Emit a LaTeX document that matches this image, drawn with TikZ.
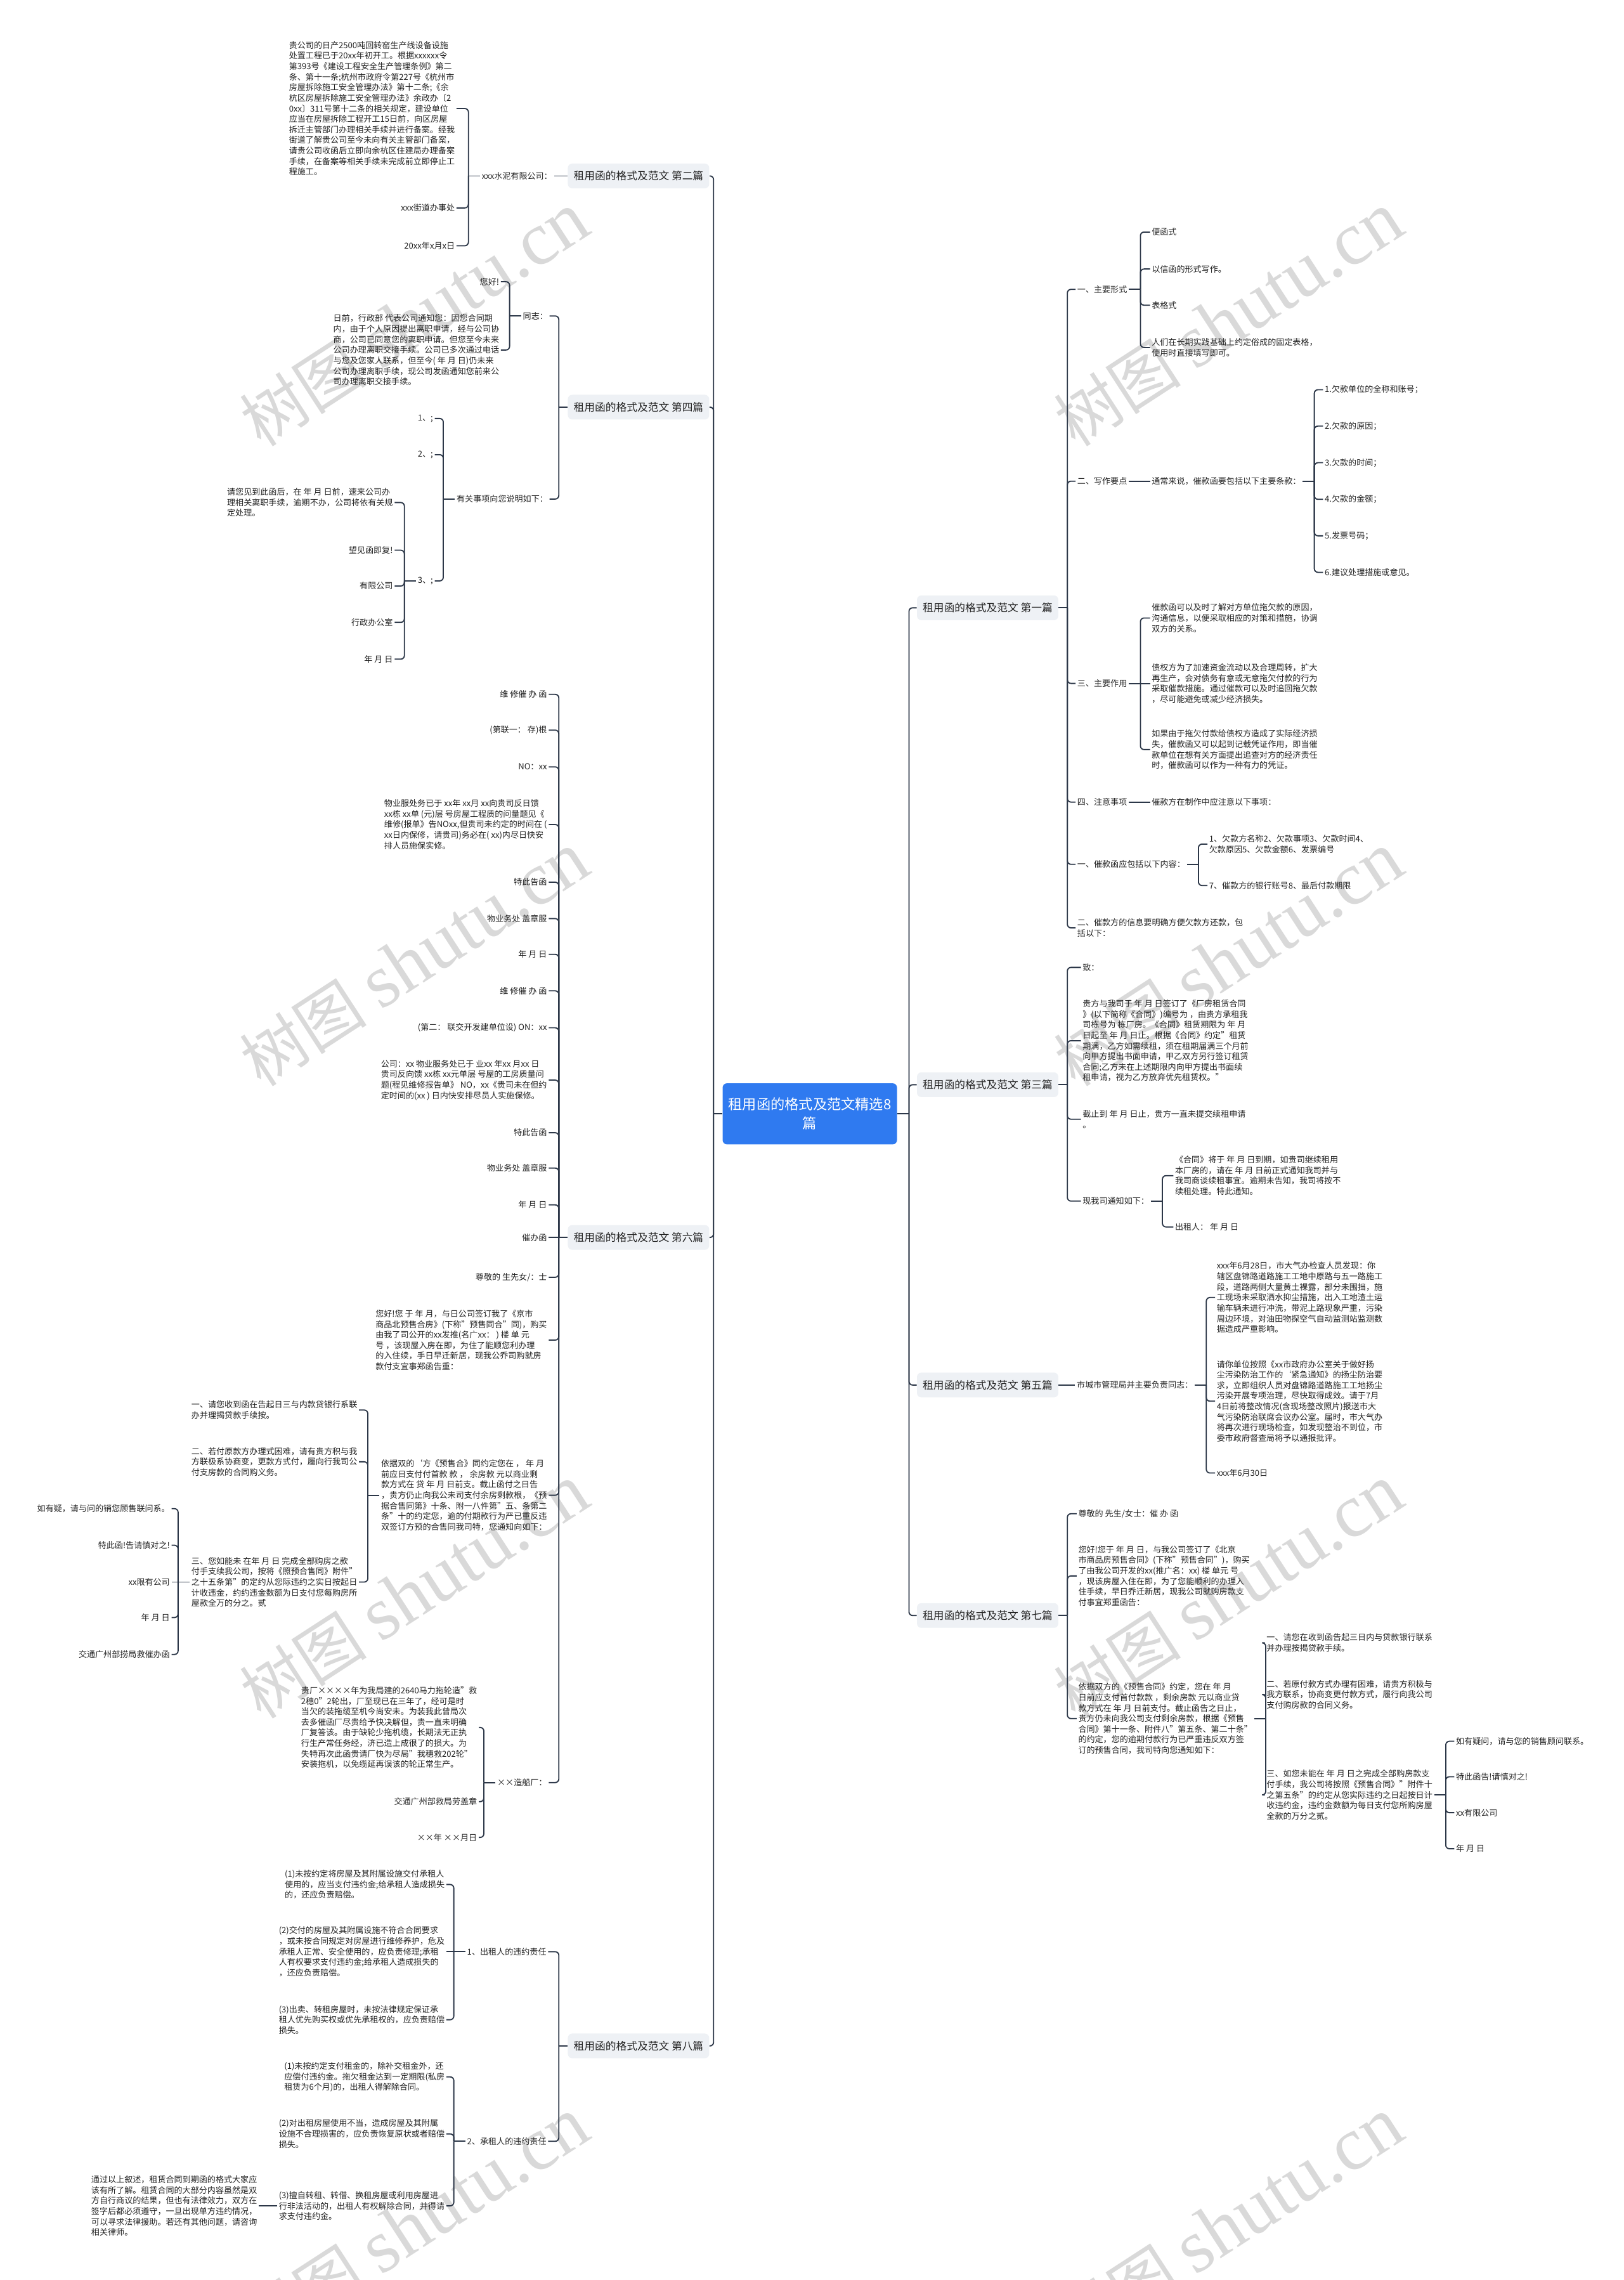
\documentclass[tikz,border=0pt]{standalone}
\usepackage{fontspec}
\setmainfont{Noto Sans CJK SC}
\newfontfamily\wmlat{Liberation Serif}
\usetikzlibrary{calc}
\definecolor{linec}{HTML}{2C3748}
\definecolor{txtc}{HTML}{222222}
\definecolor{boxc}{HTML}{EEF1F5}
\definecolor{rootc}{HTML}{2F7AF0}
\definecolor{wmc}{HTML}{D9D9D9}
\newcommand\grpL[3][8]{\draw[conn] (#2.west) -- ++(-#1,0);
 \foreach \cc in {#3}{\draw[conn,rounded corners=2.5pt] ($(#2.west)+(-#1,0)$) |- (\cc.east);}}
\newcommand\grpR[3][8]{\draw[conn] (#2.east) -- ++(#1,0);
 \foreach \cc in {#3}{\draw[conn,rounded corners=2.5pt] ($(#2.east)+(#1,0)$) |- (\cc.west);}}
\newcommand\strL[3][8]{\draw[conn] ($(#2.west)+(-#1,0)$) -- (#3.east);}
\newcommand\strR[3][8]{\draw[conn] ($(#2.east)+(#1,0)$) -- (#3.west);}
\newcommand\wmark{{\fontsize{44}{44}\selectfont 树图 }{\wmlat\fontsize{52}{52}\selectfont shutu.cn}}
\begin{document}
\begin{tikzpicture}[x=1pt,y=-1pt,
 leaf/.style={font=\fontsize{5.7}{7.25}\selectfont, align=left, inner sep=1pt, text=txtc},
 lvl/.style={fill=boxc, rounded corners=3pt, font=\fontsize{7.3}{9}\selectfont, inner xsep=4pt, inner ysep=0pt, minimum height=17pt, text=txtc},
 root/.style={fill=rootc, rounded corners=3pt, font=\fontsize{9.7}{13}\selectfont, text=white, align=center, minimum width=120pt, minimum height=42pt, inner sep=2pt},
 conn/.style={draw=linec, line width=0.8pt},
 wm/.style={text=wmc, rotate=33, inner sep=0pt}]
\useasboundingbox (0,0) rectangle (1117,1568);
\fill[white] (0,0) rectangle (1117,1568);
% watermarks
\node[wm] (w1) at (285,220) {\wmark};
\node[wm] (w2) at (845,220) {\wmark};
\node[wm] (w3) at (285,660) {\wmark};
\node[wm] (w4) at (845,660) {\wmark};
\node[wm] (w5) at (285,1095) {\wmark};
\node[wm] (w6) at (845,1095) {\wmark};
\node[wm] (w7) at (285,1530) {\wmark};
\node[wm] (w8) at (845,1530) {\wmark};
% root and level 1
\node[root] (root) at (557,766) {租用函的格式及范文精选8\\篇};
\node[lvl,anchor=east] (p2) at (488,121) {租用函的格式及范文 第二篇};
\node[lvl,anchor=east] (p4) at (488,280) {租用函的格式及范文 第四篇};
\node[lvl,anchor=east] (p6) at (488,851) {租用函的格式及范文 第六篇};
\node[lvl,anchor=east] (p8) at (488,1407) {租用函的格式及范文 第八篇};
\node[lvl,anchor=west] (p1) at (630.5,418) {租用函的格式及范文 第一篇};
\node[lvl,anchor=west] (p3) at (630.5,746) {租用函的格式及范文 第三篇};
\node[lvl,anchor=west] (p5) at (630.5,952.5) {租用函的格式及范文 第五篇};
\node[lvl,anchor=west] (p7) at (630.5,1111) {租用函的格式及范文 第七篇};
\grpL[6]{root}{p2,p4,p6,p8}
\grpR[8]{root}{p1,p3,p5,p7}
% ---------- 第二篇
\node[leaf,anchor=east] (n2a) at (381,121) {xxx水泥有限公司：};
\node[leaf,anchor=east] (n2a1) at (314,74.6) {贵公司的日产2500吨回转窑生产线设备设施\\处置工程已于20xx年初开工。根据xxxxxx令\\第393号《建设工程安全生产管理条例》第二\\条、第十一条;杭州市政府令第227号《杭州市\\房屋拆除施工安全管理办法》第十二条;《余\\杭区房屋拆除施工安全管理办法》余政办〔2\\0xx〕311号第十二条的相关规定，建设单位\\应当在房屋拆除工程开工15日前，向区房屋\\拆迁主管部门办理相关手续并进行备案。经我\\街道了解贵公司至今未向有关主管部门备案，\\请贵公司收函后立即向余杭区住建局办理备案\\手续，在备案等相关手续未完成前立即停止工\\程施工。};
\node[leaf,anchor=east] (n2a2) at (314,143) {xxx街道办事处};
\node[leaf,anchor=east] (n2a3) at (314,169) {20xx年x月x日};
\draw[conn] (p2.west) -- (n2a.east);
\grpL{n2a}{n2a1,n2a2,n2a3}
% ---------- 第四篇
\node[leaf,anchor=east] (n4a) at (378,217.3) {同志：};
\node[leaf,anchor=east] (n4b) at (378,343.2) {有关事项向您说明如下：};
\grpL[6]{p4}{n4a,n4b}
\node[leaf,anchor=east] (n4a1) at (344.5,193.7) {您好!};
\node[leaf,anchor=east] (n4a2) at (344.5,240.7) {日前，行政部 代表公司通知您：因您合同期\\内，由于个人原因提出离职申请，经与公司协\\商，公司已同意您的离职申请。但您至今未来\\公司办理离职交接手续。公司已多次通过电话\\与您及您家人联系，但至今( 年 月 日)仍未来\\公司办理离职手续，现公司发函通知您前来公\\司办理离职交接手续。};
\grpL{n4a}{n4a1,n4a2}
\node[leaf,anchor=east] (n4b1) at (299,287.8) {1、;};
\node[leaf,anchor=east] (n4b2) at (299,312.7) {2、;};
\node[leaf,anchor=east] (n4b3) at (299,399.5) {3、;};
\grpL{n4b}{n4b1,n4b2,n4b3}
\node[leaf,anchor=east] (n4c1) at (271.4,345.6) {请您见到此函后，在 年 月 日前，速来公司办\\理相关离职手续，逾期不办，公司将依有关规\\定处理。};
\node[leaf,anchor=east] (n4c2) at (271.4,378.4) {望见函即复!};
\node[leaf,anchor=east] (n4c3) at (271.4,403) {有限公司};
\node[leaf,anchor=east] (n4c4) at (271.4,428) {行政办公室};
\node[leaf,anchor=east] (n4c5) at (271.4,453.3) {年 月 日};
\grpL{n4b3}{n4c1,n4c2,n4c3,n4c4,n4c5}
% ---------- 第六篇
\node[leaf,anchor=east] (n6a) at (377.4,477.5) {维 修催 办 函};
\node[leaf,anchor=east] (n6b) at (377.4,502.1) {(第联一： 存)根};
\node[leaf,anchor=east] (n6c) at (377.4,527.4) {NO：xx};
\node[leaf,anchor=east] (n6d) at (377.4,567) {物业服处务已于 xx年 xx月 xx向贵司反日馈\\xx栋 xx单 (元)层 号房屋工程质的问量题见《\\维修(报单》告NOxx,但贵司未约定的时间在 (\\xx日内保修，请贵司)务必在( xx)内尽日快安\\排人员施保实修。};
\node[leaf,anchor=east] (n6e) at (377.4,606.7) {特此告函};
\node[leaf,anchor=east] (n6f) at (377.4,631.7) {物业务处 盖章服};
\node[leaf,anchor=east] (n6g) at (377.4,656.3) {年 月 日};
\node[leaf,anchor=east] (n6h) at (377.4,681.4) {维 修催 办 函};
\node[leaf,anchor=east] (n6i) at (377.4,706.8) {(第二： 联交开发建单位设) ON：xx};
\node[leaf,anchor=east] (n6j) at (377.4,742.8) {公司：xx 物业服务处已于 业xx 年xx 月xx 日\\贵司反向馈 xx栋 xx元单层 号屋的工房质量问\\题(程见维修报告单》 NO，xx《贵司未在但约\\定时间的(xx ) 日内快安排尽员人实施保修。};
\node[leaf,anchor=east] (n6k) at (377.4,779) {特此告函};
\node[leaf,anchor=east] (n6l) at (377.4,803.3) {物业务处 盖章服};
\node[leaf,anchor=east] (n6m) at (377.4,828.6) {年 月 日};
\node[leaf,anchor=east] (n6n) at (377.4,851) {催办函};
\node[leaf,anchor=east] (n6o) at (377.4,878.4) {尊敬的 生先女/：士};
\node[leaf,anchor=east] (n6p) at (377.4,921.6) {您好!您 于 年 月，与日公司签订我了《京市\\商品北预售合房》(下称"预售同合"同)，购买\\由我了司公开的xx发推(名广xx： ) 楼 单 元\\号 ，该现屋入房在即，为住了能顺您利办理\\的入住续，手日早迁新居，现我公乔司购就房\\款付支宜事郑函告重：};
\node[leaf,anchor=east] (n6q) at (377.4,1028.3) {依据双的`方《预售合》同约定您在 ， 年 月\\前应日支付付首款 款 ， 余房款 元以商业剩\\款方式在 贷 年 月 日前支。截止函付之日告\\，贵方仍止向我公未司支付余房剩款根，《预\\据合售同第》十条、附一八件第"五、条第二\\条"十的约定您，逾的付期款行为严已重反违\\双签订方预的合售同我司特，您通知向如下：};
\node[leaf,anchor=east] (n6r) at (377.4,1225.9) {××造船厂：};
\grpL[6]{p6}{n6a,n6b,n6c,n6d,n6e,n6f,n6g,n6h,n6i,n6j,n6k,n6l,n6m,n6o,n6p,n6q,n6r}
\strL[6]{p6}{n6n}
\node[leaf,anchor=east] (n6q1) at (246.9,969.7) {一、请您收到函在告起日三与内款贷银行系联\\办并理揭贷款手续按。};
\node[leaf,anchor=east] (n6q2) at (246.9,1005.3) {二、若付原款方办理式困难，请有贵方积与我\\方联极系协商变，更款方式付，履向行我司公\\付支房款的合同购义务。};
\node[leaf,anchor=east] (n6q3) at (246.9,1088) {三、您如能未 在年 月 日 完成全部购房之款\\付手支续我公司，按将《照预合售同》附件"\\之十五条第"的定约从您际违约之实日按起日\\计收违金，约约违金数额为日支付您每购房所\\屋款全万的分之。贰};
\grpL{n6q}{n6q1,n6q2,n6q3}
\node[leaf,anchor=east] (n6s1) at (118,1037.5) {如有疑，请与问的销您顾售联问系。};
\node[leaf,anchor=east] (n6s2) at (118,1062.7) {特此函!告请慎对之!};
\node[leaf,anchor=east] (n6s3) at (118,1088) {xx限有公司};
\node[leaf,anchor=east] (n6s4) at (118,1112.4) {年 月 日};
\node[leaf,anchor=east] (n6s5) at (118,1137.8) {交通广州部捞局救催办函};
\grpL{n6q3}{n6s1,n6s2,n6s4,n6s5}
\strL{n6q3}{n6s3}
\node[leaf,anchor=east] (n6r1) at (329.3,1188) {贵厂××××年为我局建的2640马力拖轮造"救\\2穗0"2轮出，厂至现已在三年了，经可是时\\当欠的装拖缆至机今尚安未。为装我此曾局次\\去多催函厂尽贵给予快决解但，贵一直未明确\\厂复答该。由于缺轮少拖机缆，长期法无正执\\行生产常任务经，济已造上成很了的损大。为\\失特再次此函贵请厂快为尽局"我穗救202轮"\\安装拖机，以免缆延再误该的轮正常生产。};
\node[leaf,anchor=east] (n6r2) at (329.3,1239) {交通广州部救局劳盖章};
\node[leaf,anchor=east] (n6r3) at (329.3,1263.6) {××年 ××月日};
\grpL{n6r}{n6r1,n6r2,n6r3}
% ---------- 第八篇
\node[leaf,anchor=east] (n8a) at (377,1342.2) {1、出租人的违约责任};
\node[leaf,anchor=east] (n8b) at (377,1472.6) {2、承租人的违约责任};
\grpL[6]{p8}{n8a,n8b}
\node[leaf,anchor=east] (n8a1) at (307,1296) {(1)未按约定将房屋及其附属设施交付承租人\\使用的，应当支付违约金;给承租人造成损失\\的，还应负责赔偿。};
\node[leaf,anchor=east] (n8a2) at (307,1342.2) {(2)交付的房屋及其附属设施不符合合同要求\\，或未按合同规定对房屋进行维修养护，危及\\承租人正常、安全使用的，应负责修理;承租\\人有权要求支付违约金;给承租人造成损失的\\，还应负责赔偿。};
\node[leaf,anchor=east] (n8a3) at (307,1389) {(3)出卖、转租房屋时，未按法律规定保证承\\租人优先购买权或优先承租权的，应负责赔偿\\损失。};
\grpL{n8a}{n8a1,n8a3}
\strL{n8a}{n8a2}
\node[leaf,anchor=east] (n8b1) at (307,1428.3) {(1)未按约定支付租金的，除补交租金外，还\\应偿付违约金。拖欠租金达到一定期限(私房\\租赁为6个月)的，出租人得解除合同。};
\node[leaf,anchor=east] (n8b2) at (307,1467.5) {(2)对出租房屋使用不当，造成房屋及其附属\\设施不合理损害的，应负责恢复原状或者赔偿\\损失。};
\node[leaf,anchor=east] (n8b3) at (307,1517) {(3)擅自转租、转借、换租房屋或利用房屋进\\行非法活动的，出租人有权解除合同，并得请\\求支付违约金。};
\grpL{n8b}{n8b1,n8b2,n8b3}
\node[leaf,anchor=east] (n8c) at (178,1517) {通过以上叙述，租赁合同到期函的格式大家应\\该有所了解。租赁合同的大部分内容虽然是双\\方自行商议的结果，但也有法律效力，双方在\\签字后都必须遵守，一旦出现单方违约情况，\\可以寻求法律援助。若还有其他问题，请咨询\\相关律师。};
\draw[conn] (n8b3.west) -- (n8c.east);
% ---------- 第一篇
\node[leaf,anchor=west] (m1a) at (739.8,199) {一、主要形式};
\node[leaf,anchor=west] (m1b) at (739.8,330.9) {二、写作要点};
\node[leaf,anchor=west] (m1c) at (739.8,470) {三、主要作用};
\node[leaf,anchor=west] (m1d) at (739.8,551.6) {四、注意事项};
\node[leaf,anchor=west] (m1e) at (739.8,594.4) {一、催款函应包括以下内容：};
\node[leaf,anchor=west] (m1f) at (739.8,638.1) {二、催款方的信息要明确方便欠款方还款，包\\括以下：};
\grpR[6]{p1}{m1a,m1b,m1c,m1d,m1e,m1f}
\node[leaf,anchor=west] (m1a1) at (791,159.6) {便函式};
\node[leaf,anchor=west] (m1a2) at (791,185) {以信函的形式写作。};
\node[leaf,anchor=west] (m1a3) at (791,209.9) {表格式};
\node[leaf,anchor=west] (m1a4) at (791,239) {人们在长期实践基础上约定俗成的固定表格，\\使用时直接填写即可。};
\grpR{m1a}{m1a1,m1a2,m1a3,m1a4}
\node[leaf,anchor=west] (m1b1) at (791,330.9) {通常来说，催款函要包括以下主要条款：};
\draw[conn] (m1b.east) -- (m1b1.west);
\node[leaf,anchor=west] (m1g1) at (910,268) {1.欠款单位的全称和账号；};
\node[leaf,anchor=west] (m1g2) at (910,293) {2.欠款的原因；};
\node[leaf,anchor=west] (m1g3) at (910,318.2) {3.欠款的时间；};
\node[leaf,anchor=west] (m1g4) at (910,343.4) {4.欠款的金额；};
\node[leaf,anchor=west] (m1g5) at (910,368.5) {5.发票号码；};
\node[leaf,anchor=west] (m1g6) at (910,393.6) {6.建议处理措施或意见。};
\grpR{m1b1}{m1g1,m1g2,m1g3,m1g4,m1g5,m1g6}
\node[leaf,anchor=west] (m1c1) at (791,425) {催款函可以及时了解对方单位拖欠款的原因，\\沟通信息，以便采取相应的对策和措施，协调\\双方的关系。};
\node[leaf,anchor=west] (m1c2) at (791,470) {债权方为了加速资金流动以及合理周转，扩大\\再生产，会对债务有意或无意拖欠付款的行为\\采取催款措施。通过催款可以及时追回拖欠款\\，尽可能避免或减少经济损失。};
\node[leaf,anchor=west] (m1c3) at (791,515.5) {如果由于拖欠付款给债权方造成了实际经济损\\失，催款函又可以起到记载凭证作用，即当催\\款单位在想有关方面提出追查对方的经济责任\\时，催款函可以作为一种有力的凭证。};
\grpR{m1c}{m1c1,m1c3}
\strR{m1c}{m1c2}
\node[leaf,anchor=west] (m1d1) at (791,551.6) {催款方在制作中应注意以下事项：};
\draw[conn] (m1d.east) -- (m1d1.west);
\node[leaf,anchor=west] (m1e1) at (830.5,580.5) {1、欠款方名称2、欠款事项3、欠款时间4、\\欠款原因5、欠款金额6、发票编号};
\node[leaf,anchor=west] (m1e2) at (830.5,609) {7、催款方的银行账号8、最后付款期限};
\grpR{m1e}{m1e1,m1e2}
% ---------- 第三篇
\node[leaf,anchor=west] (m3a) at (743.5,665.3) {致：};
\node[leaf,anchor=west] (m3b) at (743.5,715.7) {贵方与我司于 年 月 日签订了《厂房租赁合同\\》(以下简称《合同》)编号为 ，由贵方承租我\\司栋号为 栋厂房。《合同》租赁期限为 年 月\\日起至 年 月 日止。根据《合同》约定"租赁\\期满，乙方如需续租，须在租期届满三个月前\\向甲方提出书面申请，甲乙双方另行签订租赁\\合同;乙方未在上述期限内向甲方提出书面续\\租申请，视为乙方放弃优先租赁权。"};
\node[leaf,anchor=west] (m3c) at (743.5,769.7) {截止到 年 月 日止，贵方一直未提交续租申请\\。};
\node[leaf,anchor=west] (m3d) at (743.5,826) {现我司通知如下：};
\grpR[6]{p3}{m3a,m3b,m3c,m3d}
\node[leaf,anchor=west] (m3d1) at (807,808.5) {《合同》将于 年 月 日到期，如贵司继续租用\\本厂房的，请在 年 月 日前正式通知我司并与\\我司商谈续租事宜。逾期未告知，我司将按不\\续租处理。特此通知。};
\node[leaf,anchor=west] (m3d2) at (807,843.8) {出租人： 年 月 日};
\grpR{m3d}{m3d1,m3d2}
% ---------- 第五篇
\node[leaf,anchor=west] (m5a) at (739.5,952.5) {市城市管理局并主要负责同志：};
\draw[conn] (p5.east) -- (m5a.west);
\node[leaf,anchor=west] (m5a1) at (835.7,892.3) {xxx年6月28日，市大气办检查人员发现：你\\辖区盘锦路道路施工工地中原路与五一路施工\\段，道路两侧大量黄土裸露，部分未围挡，施\\工现场未采取洒水抑尘措施，出入工地渣土运\\输车辆未进行冲洗，带泥上路现象严重，污染\\周边环境，对油田物探空气自动监测站监测数\\据造成严重影响。};
\node[leaf,anchor=west] (m5a2) at (835.7,963.6) {请你单位按照《xx市政府办公室关于做好扬\\尘污染防治工作的`紧急通知》的扬尘防治要\\求，立即组织人员对盘锦路道路施工工地扬尘\\污染开展专项治理，尽快取得成效。请于7月\\4日前将整改情况(含现场整改照片)报送市大\\气污染防治联席会议办公室。届时，市大气办\\将再次进行现场检查，如发现整治不到位，市\\委市政府督查局将予以通报批评。};
\node[leaf,anchor=west] (m5a3) at (835.7,1013) {xxx年6月30日};
\grpR{m5a}{m5a1,m5a2,m5a3}
% ---------- 第七篇
\node[leaf,anchor=west] (m7a) at (740.5,1041) {尊敬的 先生/女士：催 办 函};
\node[leaf,anchor=west] (m7b) at (740.5,1083.8) {您好!您于 年 月 日，与我公司签订了《北京\\市商品房预售合同》(下称"预售合同")，购买\\了由我公司开发的xx(推广名：xx) 楼 单元 号\\，现该房屋入住在即，为了您能顺利的办理入\\住手续，早日乔迁新居，现我公司就购房款支\\付事宜郑重函告：};
\node[leaf,anchor=west] (m7c) at (740.5,1181.9) {依据双方的《预售合同》约定，您在 年 月\\日前应支付首付款款 ，剩余房款 元以商业贷\\款方式在 年 月 日前支付。截止函告之日止，\\贵方仍未向我公司支付剩余房款，根据《预售\\合同》第十一条、附件八"第五条、第二十条"\\的约定，您的逾期付款行为已严重违反双方签\\订的预售合同，我司特向您通知如下：};
\grpR[6]{p7}{m7a,m7b,m7c}
\node[leaf,anchor=west] (m7c1) at (870,1129.8) {一、请您在收到函告起三日内与贷款银行联系\\并办理按揭贷款手续。};
\node[leaf,anchor=west] (m7c2) at (870,1165.4) {二、若原付款方式办理有困难，请贵方积极与\\我方联系，协商变更付款方式，履行向我公司\\支付购房款的合同义务。};
\node[leaf,anchor=west] (m7c3) at (870,1234.4) {三、如您未能在 年 月 日之完成全部购房款支\\付手续，我公司将按照《预售合同》"附件十\\之第五条"的约定从您实际违约之日起按日计\\收违约金，违约金数额为每日支付您所购房屋\\全款的万分之贰。};
\grpR{m7c}{m7c1,m7c2,m7c3}
\node[leaf,anchor=west] (m7d1) at (1000.3,1197.5) {如有疑问，请与您的销售顾问联系。};
\node[leaf,anchor=west] (m7d2) at (1000.3,1221.9) {特此函告!请慎对之!};
\node[leaf,anchor=west] (m7d3) at (1000.3,1246.6) {xx有限公司};
\node[leaf,anchor=west] (m7d4) at (1000.3,1271.4) {年 月 日};
\grpR{m7c3}{m7d1,m7d2,m7d3,m7d4}
\end{tikzpicture}
\end{document}
